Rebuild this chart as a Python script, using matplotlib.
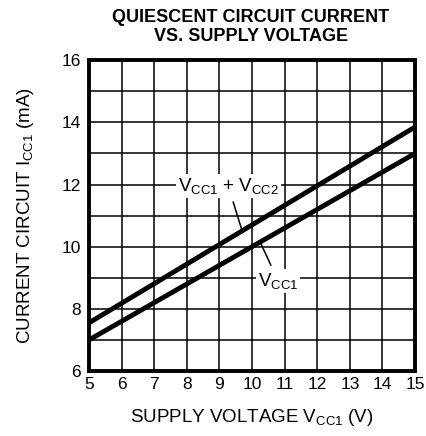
import matplotlib
matplotlib.use("Agg")
import matplotlib.pyplot as plt

plt.rcParams['font.family'] = ['Liberation Sans', 'DejaVu Sans']
plt.rcParams['mathtext.fontset'] = 'custom'
plt.rcParams['mathtext.rm'] = 'Liberation Sans'

# data
supply_v = [5, 15]
icc_total = [7.55, 13.85]   # Vcc1 + Vcc2
icc_vcc1 = [7.0, 13.0]      # Vcc1 only

x_ticks = list(range(5, 16))
y_ticks = list(range(6, 17))
y_labels = [str(v) if v % 2 == 0 else '' for v in y_ticks]

fig = plt.figure(figsize=(4.27, 4.36), dpi=100)
ax = fig.add_axes([0.2084, 0.149, 0.7636, 0.713])

ax.set_xlim(5, 15)
ax.set_ylim(6, 16)
ax.set_xticks(x_ticks)
ax.set_yticks(y_ticks, y_labels)
ax.grid(True, color='black', linewidth=1.1)
ax.tick_params(length=0, labelsize=12.5)
ax.tick_params(axis='x', pad=4)
ax.tick_params(axis='y', pad=6)
for s in ax.spines.values():
    s.set_linewidth(2.8)

ax.plot(supply_v, icc_total, color='black', linewidth=3.5, zorder=3)
ax.plot(supply_v, icc_vcc1, color='black', linewidth=3.5, zorder=3)

sub = r'$\mathregular{_{CC1}}$'
sub2 = r'$\mathregular{_{CC2}}$'
ax.annotate('V' + sub + ' + V' + sub2, xy=(9.7, 10.5), xytext=(9.27, 11.95),
            fontsize=13.5, ha='center', va='center',
            bbox=dict(boxstyle='square,pad=0.1', fc='white', ec='none'),
            arrowprops=dict(arrowstyle='-', color='black', lw=1.1,
                            shrinkA=3, shrinkB=0), zorder=4)
ax.annotate('V' + sub, xy=(10.25, 10.15), xytext=(10.8, 8.9),
            fontsize=13.5, ha='center', va='center',
            bbox=dict(boxstyle='square,pad=0.1', fc='white', ec='none'),
            arrowprops=dict(arrowstyle='-', color='black', lw=1.1,
                            shrinkA=3, shrinkB=0), zorder=4)

fig.text(0.587, 0.938, 'QUIESCENT CIRCUIT CURRENT\nVS. SUPPLY VOLTAGE',
         ha='center', va='center', fontsize=13, fontweight='bold',
         linespacing=1.2)
ax.set_xlabel('SUPPLY VOLTAGE V' + sub + ' (V)', fontsize=13.5, labelpad=11)
ax.set_ylabel('CURRENT CIRCUIT I' + sub + ' (mA)', fontsize=13.5, labelpad=18)

fig.savefig('out.png', dpi=100)
